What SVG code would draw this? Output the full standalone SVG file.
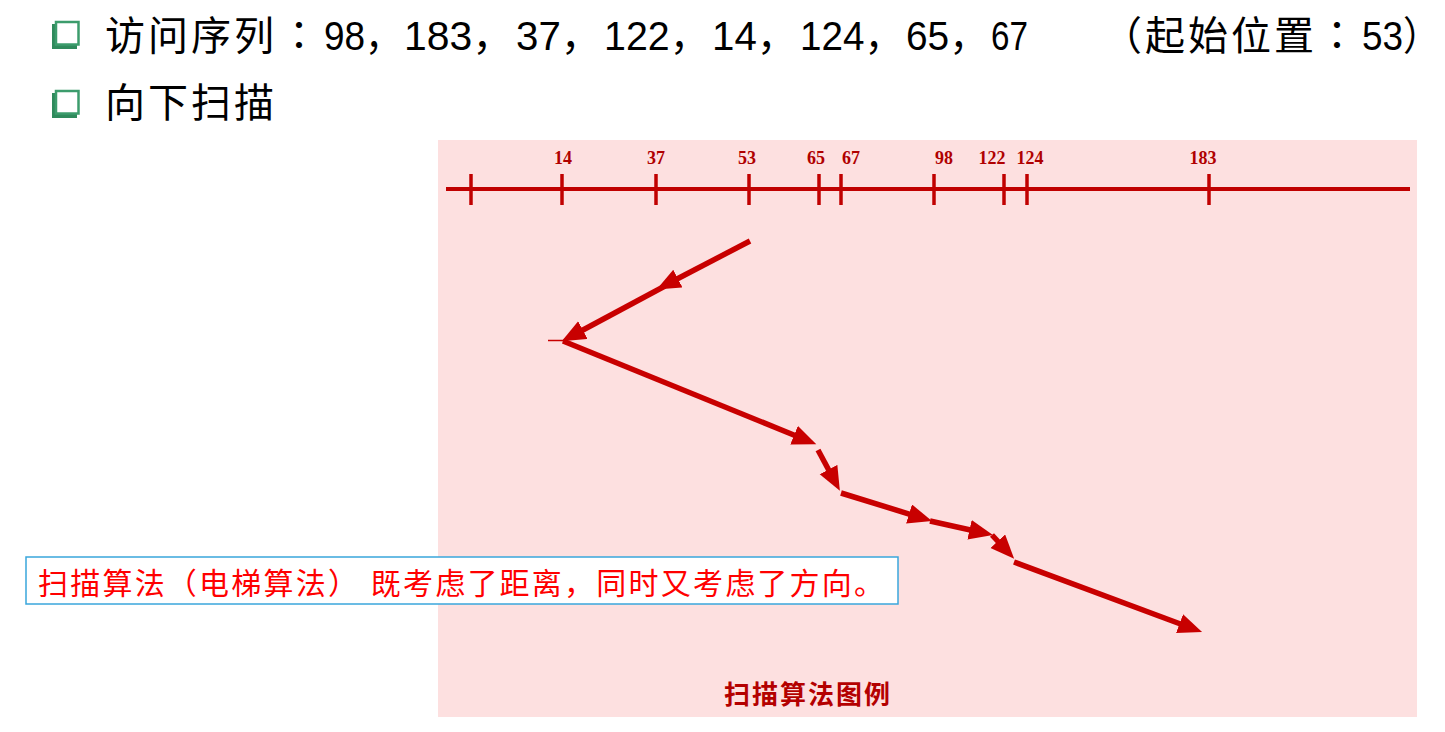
<svg xmlns="http://www.w3.org/2000/svg" width="1445" height="732" viewBox="0 0 1445 732">
<style>
.h{font-family:"Liberation Sans","Noto Sans CJK SC",sans-serif;font-size:40px;fill:#000}
.ls{letter-spacing:3px}
.jp{font-family:"Noto Sans CJK JP",sans-serif}
.ax{stroke:#c00000;stroke-width:4;fill:none}
.tk{stroke:#c00000;stroke-width:3.5}
.lab{font-family:"Liberation Serif",serif;font-weight:bold;font-size:18px;fill:#b00000;text-anchor:middle}
.ar{stroke:#c80000;stroke-width:5.5;fill:none;marker-end:url(#head)}
.note{font-family:"Liberation Sans","Noto Sans CJK SC",sans-serif;font-size:30px;fill:#ff0000}
.cap{font-family:"Noto Sans CJK SC",sans-serif;font-weight:bold;font-size:26px;fill:#b40000;text-anchor:middle;letter-spacing:2px}
</style>
<defs>
<g id="bullet">
<rect x="0" y="3" width="25" height="25" fill="#2f8a5c"/>
<rect x="4" y="1" width="22.5" height="22.5" fill="#fff" stroke="#3c9c6c" stroke-width="2.5"/>
</g>
<marker id="head" markerUnits="userSpaceOnUse" markerWidth="26" markerHeight="22" refX="1" refY="10" orient="auto">
<path d="M0,0 L24,10 L0,20 z" fill="#c80000"/>
</marker>
</defs>
<rect width="1445" height="732" fill="#fff"/>

<g id="title">
<use href="#bullet" x="52" y="21"/>
<text class="h ls" x="105" y="50">访问序列</text>
<text class="h jp" x="279" y="50">：</text>
<text class="h" x="324" y="50" textLength="78" lengthAdjust="spacingAndGlyphs">98，</text>
<text class="h" x="404" y="50" textLength="109" lengthAdjust="spacingAndGlyphs">183，</text>
<text class="h" x="516" y="50" textLength="85" lengthAdjust="spacingAndGlyphs">37，</text>
<text class="h" x="604" y="50" textLength="105" lengthAdjust="spacingAndGlyphs">122，</text>
<text class="h" x="712" y="50" textLength="85" lengthAdjust="spacingAndGlyphs">14，</text>
<text class="h" x="800" y="50" textLength="103" lengthAdjust="spacingAndGlyphs">124，</text>
<text class="h" x="906" y="50" textLength="82" lengthAdjust="spacingAndGlyphs">65，</text>
<text class="h" x="991" y="50" textLength="37" lengthAdjust="spacingAndGlyphs">67</text>
<text class="h" x="1102" y="50">（</text>
<text class="h ls" x="1145" y="50">起始位置</text>
<text class="h jp" x="1317" y="50">：</text>
<text class="h" x="1362" y="50" textLength="78" lengthAdjust="spacingAndGlyphs">53）</text>
</g>

<g id="subtitle">
<use href="#bullet" x="52" y="90"/>
<text class="h ls" x="105" y="117">向下扫描</text>
</g>

<g id="panel">
<rect x="438" y="140" width="979" height="577" fill="#fde0e0"/>
</g>

<g id="axis">
<line class="ax" x1="446" y1="189" x2="1410" y2="189"/>
<line class="tk" x1="471" y1="174" x2="471" y2="205"/>
<line class="tk" x1="562" y1="174" x2="562" y2="205"/>
<line class="tk" x1="656" y1="174" x2="656" y2="205"/>
<line class="tk" x1="749" y1="174" x2="749" y2="205"/>
<line class="tk" x1="819" y1="174" x2="819" y2="205"/>
<line class="tk" x1="841" y1="174" x2="841" y2="205"/>
<line class="tk" x1="934" y1="174" x2="934" y2="205"/>
<line class="tk" x1="1004" y1="174" x2="1004" y2="205"/>
<line class="tk" x1="1027" y1="174" x2="1027" y2="205"/>
<line class="tk" x1="1209" y1="174" x2="1209" y2="205"/>
<text class="lab" x="563" y="164">14</text>
<text class="lab" x="656" y="164">37</text>
<text class="lab" x="747" y="164">53</text>
<text class="lab" x="816" y="164">65</text>
<text class="lab" x="851" y="164">67</text>
<text class="lab" x="944" y="164">98</text>
<text class="lab" x="992" y="164">122</text>
<text class="lab" x="1030" y="164">124</text>
<text class="lab" x="1203" y="164">183</text>
</g>

<g id="connectors">
<line class="ar" x1="750" y1="241" x2="677" y2="279"/>
<line class="ar" x1="665" y1="286" x2="582" y2="330.5"/>
<line x1="548" y1="340.5" x2="565" y2="340.5" stroke="#c80000" stroke-width="1.5"/>
<line class="ar" x1="563" y1="341" x2="795" y2="435.5"/>
<line class="ar" x1="818" y1="450" x2="829" y2="470.5"/>
<line class="ar" x1="841" y1="493" x2="910" y2="514.3"/>
<line class="ar" x1="930" y1="521" x2="970.5" y2="530"/>
<line class="ar" x1="992" y1="535" x2="998.5" y2="542"/>
<line class="ar" x1="1014" y1="562" x2="1180.5" y2="624"/>
</g>

<g id="caption">
<text class="cap" x="808" y="704">扫描算法图例</text>
</g>

<g id="note">
<rect x="26" y="557" width="872" height="47" fill="#fff" stroke="#3aa6dc" stroke-width="1.5"/>
<text class="note" x="38" y="594" textLength="846" lengthAdjust="spacing">扫描算法（电梯算法） 既考虑了距离，同时又考虑了方向。</text>
</g>
</svg>
